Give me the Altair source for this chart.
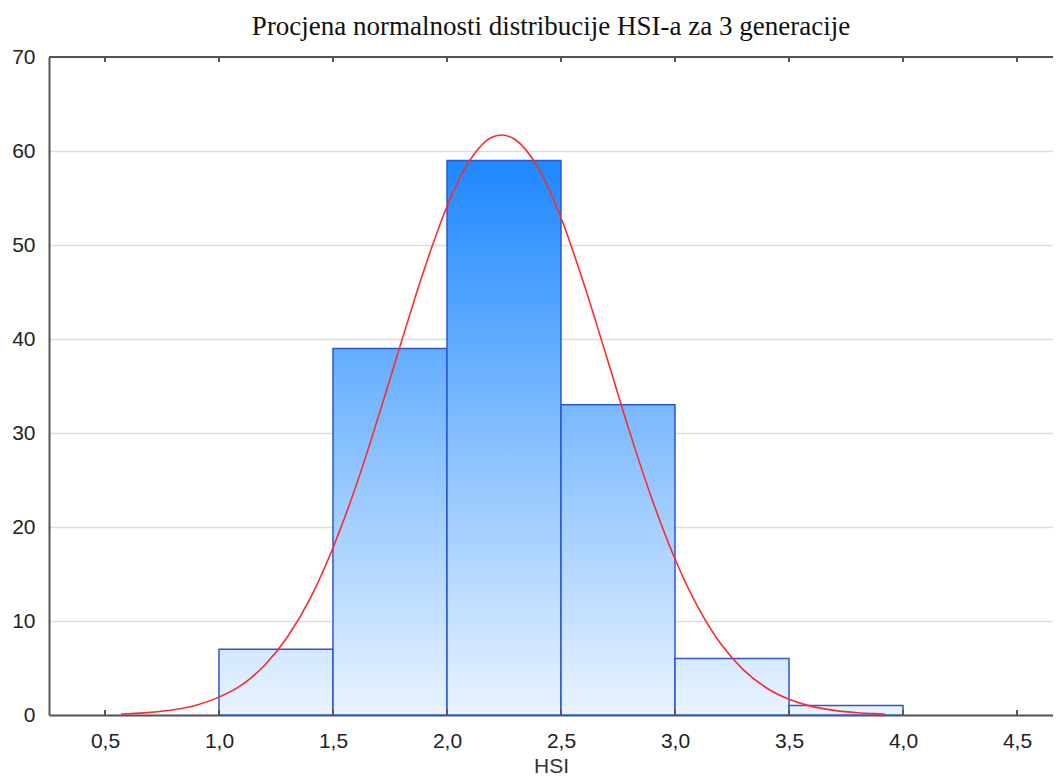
import altair as alt
import pandas as pd

# Histogram bins (left edges), width 0.5, and counts
bin_start = [1.0, 1.5, 2.0, 2.5, 3.0, 3.5]
counts = [7, 39, 59, 33, 6, 1]
bin_width = 0.5

# Fitted normal curve
curve_x = [0.57, 0.6, 0.7, 0.8, 0.9, 1.0, 1.1, 1.2, 1.3, 1.4, 1.5, 1.6, 1.7, 1.8, 1.9,
           2.0, 2.1, 2.2, 2.24, 2.3, 2.4, 2.5, 2.6, 2.7, 2.8, 2.9, 3.0, 3.1, 3.2, 3.3,
           3.4, 3.5, 3.6, 3.7, 3.8, 3.9, 3.92]
curve_y = [0.1, 0.14, 0.28, 0.55, 1.04, 1.9, 3.2, 5.3, 8.3, 12.4, 17.8, 24.3, 31.8, 39.7, 47.4,
           54.1, 59.0, 61.5, 61.7, 61.2, 58.2, 52.9, 45.9, 38.1, 30.2, 22.9, 16.6, 11.5, 7.6, 4.8,
           2.9, 1.67, 0.92, 0.49, 0.24, 0.12, 0.1]

x_ticks = [0.5, 1.0, 1.5, 2.0, 2.5, 3.0, 3.5, 4.0, 4.5]
y_ticks = [0, 10, 20, 30, 40, 50, 60, 70]

TITLE = "Procjena normalnosti distribucije HSI-a za 3 generacije"
X_TITLE = "HSI"

W, H = 1004, 658
X_DOMAIN = [0.2544, 0.2544 + 1004 / 228.0]
Y_DOMAIN = [0, 70]

bars = pd.DataFrame({
    "i": list(range(len(bin_start))),
    "x0": bin_start,
    "x1": [b + bin_width for b in bin_start],
    "count": counts,
    "zero": [0] * len(bin_start),
})
curve = pd.DataFrame({"x": curve_x, "y": curve_y})
ticks = pd.DataFrame({"x": x_ticks})

xscale = alt.Scale(domain=X_DOMAIN, nice=False, zero=False)
yscale = alt.Scale(domain=Y_DOMAIN, nice=False, zero=True)

xaxis = alt.Axis(
    values=x_ticks,
    labelExpr="replace(format(datum.value, '.1f'), '.', ',')",
    labelFont="Liberation Sans", labelFontSize=21, labelColor="#222222",
    labelPadding=15, tickSize=0, grid=False,
    domainColor="#555555", domainWidth=2,
    title=X_TITLE, titleFont="Liberation Sans", titleFontSize=21,
    titleFontWeight="normal", titleColor="#333333",
    titleY=57, titleBaseline="alphabetic",
)
yaxis = alt.Axis(
    values=y_ticks,
    labelFont="Liberation Sans", labelFontSize=21, labelColor="#222222",
    labelPadding=14, tickSize=0, grid=True, gridColor="#DDDDDD", gridWidth=1.5,
    domainColor="#555555", domainWidth=2, title=None,
)

bottom_rgb = (234, 244, 255)
top_rgb = (30, 136, 255)
top_val = 59.0


def col(v):
    f = max(0.0, min(1.0, v / top_val))
    r = round(bottom_rgb[0] + (top_rgb[0] - bottom_rgb[0]) * f)
    g = round(bottom_rgb[1] + (top_rgb[1] - bottom_rgb[1]) * f)
    b = round(bottom_rgb[2] + (top_rgb[2] - bottom_rgb[2]) * f)
    return "#%02x%02x%02x" % (r, g, b)


layers = []
for i, c in enumerate(counts):
    grad = alt.Gradient(
        gradient="linear", x1=0, y1=0, x2=0, y2=1,
        stops=[alt.GradientStop(color=col(c), offset=0),
               alt.GradientStop(color=col(0), offset=1)],
    )
    layers.append(
        alt.Chart(bars).transform_filter(alt.datum.i == i)
        .mark_rect(fill=grad, stroke="#2a58d0", strokeWidth=1.5)
        .encode(
            x=alt.X("x0:Q", scale=xscale, axis=xaxis),
            x2="x1:Q",
            y=alt.Y("count:Q", scale=yscale, axis=yaxis),
            y2="zero:Q",
        )
    )

line = alt.Chart(curve).mark_line(color="#ff2a2a", strokeWidth=1.6, interpolate="monotone").encode(
    x=alt.X("x:Q", scale=xscale, axis=xaxis),
    y=alt.Y("y:Q", scale=yscale, axis=yaxis),
)

bottom_ticks = alt.Chart(ticks).mark_rule(color="#555555", strokeWidth=2).encode(
    x=alt.X("x:Q", scale=xscale, axis=xaxis),
    y=alt.value(H), y2=alt.value(H - 5),
)
top_ticks = alt.Chart(ticks).mark_rule(color="#555555", strokeWidth=2).encode(
    x=alt.X("x:Q", scale=xscale, axis=xaxis),
    y=alt.value(0), y2=alt.value(5),
)
top_line = alt.Chart(ticks).mark_rule(color="#555555", strokeWidth=2).encode(
    x=alt.value(0), x2=alt.value(W), y=alt.value(0),
)

chart = alt.layer(*layers, line, bottom_ticks, top_ticks, top_line).properties(
    width=W, height=H,
    title=alt.TitleParams(TITLE, font="Liberation Serif", fontSize=27, fontWeight="normal",
                          color="#111111", anchor="middle", offset=5),
    autosize=alt.AutoSizeParams(type="none"),
    padding={"left": 41, "top": 49, "right": 0, "bottom": 60},
).configure_view(stroke=None)

chart.save("out.html", embed_options={"renderer": "svg", "actions": False})
